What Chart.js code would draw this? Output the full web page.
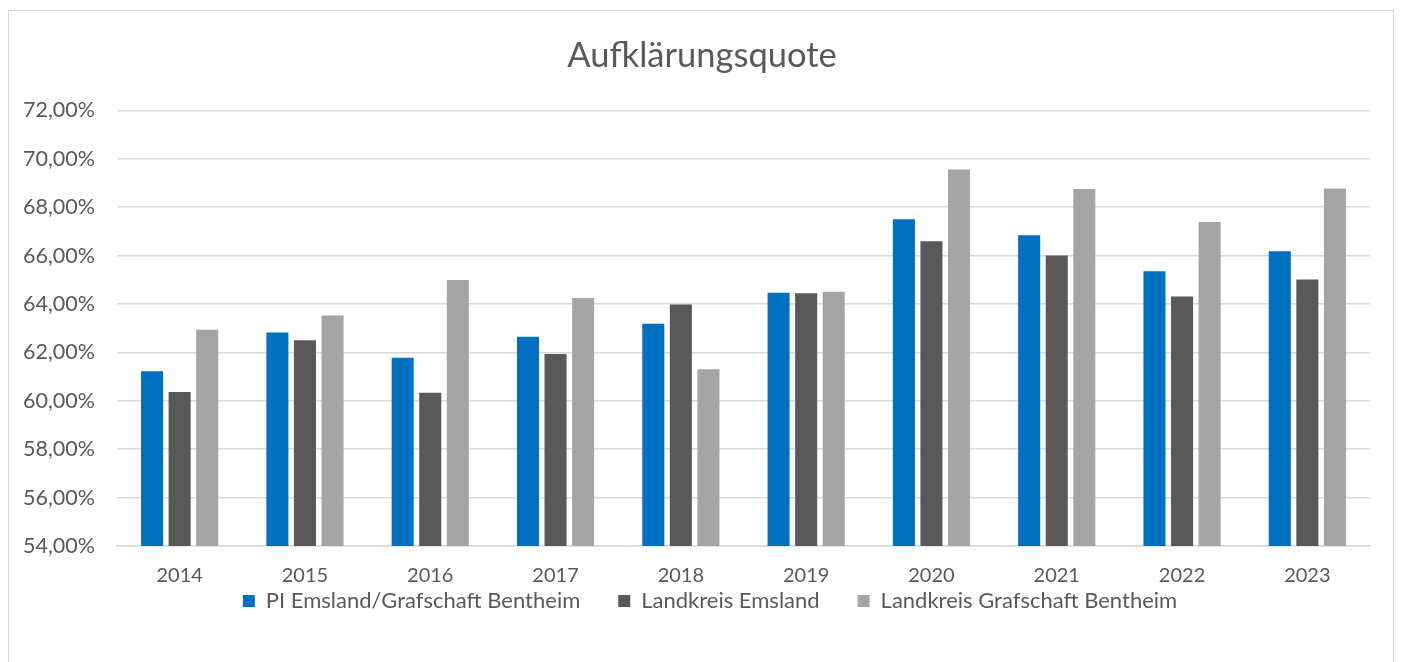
<!DOCTYPE html>
<html lang="de">
<head>
<meta charset="utf-8">
<title>Aufklärungsquote</title>
<script src="https://cdn.jsdelivr.net/npm/chart.js@4/dist/chart.umd.min.js"></script>
<style>
  html, body { margin: 0; padding: 0; background: #fff; }
  body { width: 1403px; height: 662px; position: relative; overflow: hidden; }
  .frame { position: absolute; left: 8px; top: 10px; width: 1386px; height: 700px;
           border: 1px solid #d9d9d9; box-sizing: border-box; }
  .wrap { position: absolute; left: 0; top: 0; width: 1403px; height: 662px; }
</style>
</head>
<body>
<div class="frame"></div>
<div class="wrap"><canvas id="chart"></canvas></div>
<script>
const YEARS = ["2014", "2015", "2016", "2017", "2018", "2019", "2020", "2021", "2022", "2023"];
const PI_EMSLAND_BENTHEIM = [61.22, 62.82, 61.78, 62.65, 63.18, 64.47, 67.50, 66.84, 65.35, 66.18];
const LK_EMSLAND          = [60.36, 62.50, 60.33, 61.93, 63.98, 64.44, 66.59, 66.00, 64.31, 65.01];
const LK_BENTHEIM         = [62.94, 63.52, 64.99, 64.25, 61.30, 64.51, 69.56, 68.75, 67.39, 68.77];
const SERIES_NAMES = ["PI Emsland/Grafschaft Bentheim", "Landkreis Emsland", "Landkreis Grafschaft Bentheim"];

const C = { blue: "#0070c0", dark: "#595959", light: "#a5a5a5", text: "#595959", grid: "#d9d9d9" };
const FONT = "Lato, 'Open Sans', sans-serif";

Chart.defaults.font.family = FONT;
Chart.defaults.color = C.text;

const pct = v => Number(v).toFixed(2).replace(".", ",") + "%";

const mk = (label, data, color) => ({
  label, data, backgroundColor: color, borderWidth: 0,
  categoryPercentage: 0.66, barPercentage: 0.8
});

// the legend hugs the year labels in the original, and title + legend are
// centred on the whole frame rather than on the plot
const nudge = {
  id: "nudge",
  afterLayout(chart) {
    const lg = chart.legend, t = chart.titleBlock;
    const dy = 552 - lg.top;
    lg.top += dy; lg.bottom += dy;
    lg.left += 20; lg.right += 20;
    if (t) { t.left += 12; t.right += 12; }
  }
};

new Chart(document.getElementById("chart"), {
  type: "bar",
  data: {
    labels: YEARS,
    datasets: [
      mk(SERIES_NAMES[0], PI_EMSLAND_BENTHEIM, C.blue),
      mk(SERIES_NAMES[1], LK_EMSLAND, C.dark),
      mk(SERIES_NAMES[2], LK_BENTHEIM, C.light)
    ]
  },
  plugins: [nudge],
  options: {
    responsive: true, maintainAspectRatio: false, animation: false,
    layout: { padding: { top: 20, left: 10, right: 33, bottom: 6 } },
    plugins: {
      title: { display: true, text: "Aufklärungsquote", color: C.text,
               font: { size: 34.5, weight: "normal" }, padding: { top: 15, bottom: 34 } },
      legend: { position: "bottom",
                labels: { boxWidth: 12, boxHeight: 12, padding: 38, color: C.text,
                          font: { size: 22 } } },
      tooltip: { callbacks: { label: c => " " + c.dataset.label + ": " + pct(c.raw) } }
    },
    scales: {
      x: {
        afterFit: s => { s.height = 40; },
        grid: { display: false },
        border: { color: C.grid, width: 1.5 },
        ticks: { color: C.text, font: { size: 20 }, padding: 10 }
      },
      y: {
        min: 54, max: 72,
        afterFit: s => { s.width = 107; },
        grid: { color: C.grid, lineWidth: 1.5, drawTicks: false },
        border: { display: false },
        ticks: { stepSize: 2, color: C.text, font: { size: 21.5 }, padding: 22, callback: v => pct(v) }
      }
    }
  }
});
</script>
</body>
</html>
